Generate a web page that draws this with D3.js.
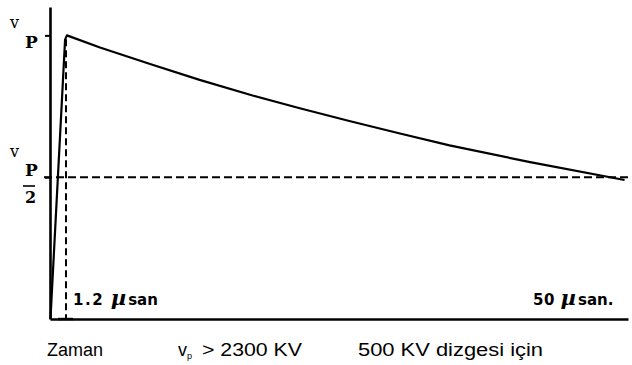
<!DOCTYPE html>
<html><head><meta charset="utf-8">
<script src="https://cdn.jsdelivr.net/npm/d3@7"></script>
<style>body{margin:0;background:#fff}svg{display:block}</style>
</head><body><svg id="c" width="632" height="365"></svg>
<script>
// data (time in microseconds, voltage as fraction of Vp)
const timeUs  = [-0.15, 1.12, 1.28, 4.15, 8.5, 12.8, 17.4, 21.5, 25.8, 30.2, 34.5, 41.5, 49.7];
const voltage = [0, 0.985, 1.0, 0.957, 0.899, 0.843, 0.788, 0.743, 0.698, 0.654, 0.612, 0.553, 0.490];
const frontTime = 1.2;
const tailTime = 50;
const levels = [1, 0.5];
const frontLabel = "1.2";
const tailLabel = "50";
const bottomTexts = ["Zaman", "> 2300  KV", "500 KV dizgesi için"];

const svg = d3.select("#c");
const x = d3.scaleLinear().domain([-0.19, 50]).range([50, 628]);
const y = d3.scaleLinear().domain([0, 1.1]).range([319, 7]);

// axes
const ya = svg.append("g").attr("transform", "translate(50,0)")
  .call(d3.axisLeft(y).tickValues(levels).tickSize(5).tickFormat("").tickSizeOuter(0));
ya.select(".domain").attr("stroke-width", 2.6);
ya.selectAll(".tick line").attr("stroke-width", 2);

const xa = svg.append("g").attr("transform", "translate(0,319)")
  .call(d3.axisBottom(x).tickValues([]).tickSizeOuter(0));
xa.select(".domain").attr("stroke-width", 2.4);

// dashed half-value line and front-time line
svg.append("line")
  .attr("x1", 44).attr("x2", x(tailTime)).attr("y1", y(0.5)).attr("y2", y(0.5))
  .attr("stroke", "#000").attr("stroke-width", 2).attr("stroke-dasharray", "8,4");
svg.append("line")
  .attr("x1", x(frontTime)).attr("x2", x(frontTime)).attr("y1", y(1) + 4).attr("y2", 319)
  .attr("stroke", "#000").attr("stroke-width", 2).attr("stroke-dasharray", "7,4");
svg.append("line")
  .attr("x1", x(frontTime) - 8).attr("x2", x(frontTime) + 7).attr("y1", 319).attr("y2", 319)
  .attr("stroke", "#000").attr("stroke-width", 2.4);

// waveform
const pts = timeUs.map((t, i) => [t, voltage[i]]);
svg.append("path").datum(pts)
  .attr("d", d3.line().x(d => x(d[0])).y(d => y(d[1])))
  .attr("fill", "none").attr("stroke", "#000").attr("stroke-width", 2.2)
  .attr("stroke-linejoin", "round");

// V_p labels
const serif = "'DejaVu Serif', serif";
function vp(yv, yp) {
  svg.append("text").attr("x", 10).attr("y", yv).attr("font-family", serif)
    .attr("font-size", 16).text("v");
  svg.append("text").attr("x", 25).attr("y", yp).attr("font-family", serif)
    .attr("font-weight", "bold").attr("font-size", 17).text("P");
}
vp(28, 48);
vp(157, 176);
svg.append("line").attr("x1", 23).attr("x2", 35).attr("y1", 186).attr("y2", 186)
  .attr("stroke", "#000").attr("stroke-width", 1.6);
svg.append("text").attr("x", 25).attr("y", 203).attr("font-family", serif)
  .attr("font-weight", "bold").attr("font-size", 16).text("2");

// time labels
function tlabel(xpos, num, suffix, ls) {
  const t = svg.append("text").attr("x", xpos).attr("y", 305)
    .attr("font-family", "'DejaVu Sans', sans-serif").attr("font-weight", "bold").attr("font-size", 15);
  t.append("tspan").attr("letter-spacing", ls).text(num + " ");
  t.append("tspan").attr("font-family", serif).attr("font-style", "italic").attr("font-size", 21).text("µ");
  t.append("tspan").attr("dx", 2).text(suffix);
}
tlabel(x(frontTime) + 7, frontLabel, "san", 1.5);
tlabel(533, tailLabel, "san.", 0.5);

// bottom caption
const sans = "'Liberation Sans', Arial, sans-serif";
svg.append("text").attr("x", 47).attr("y", 356).attr("font-family", sans).attr("font-size", 18)
  .attr("textLength", 56).attr("lengthAdjust", "spacingAndGlyphs").text(bottomTexts[0]);
const v2 = svg.append("text").attr("x", 178).attr("y", 356).attr("font-family", sans).attr("font-size", 18);
v2.append("tspan").text("v");
v2.append("tspan").attr("font-size", 9).attr("dy", 3).text("p");
svg.append("text").attr("x", 202).attr("y", 356).attr("font-family", sans).attr("font-size", 18)
  .attr("textLength", 100).attr("lengthAdjust", "spacingAndGlyphs").text(bottomTexts[1]);
svg.append("text").attr("x", 358).attr("y", 356).attr("font-family", sans).attr("font-size", 18)
  .attr("textLength", 185).attr("lengthAdjust", "spacingAndGlyphs").text(bottomTexts[2]);
</script></body></html>
